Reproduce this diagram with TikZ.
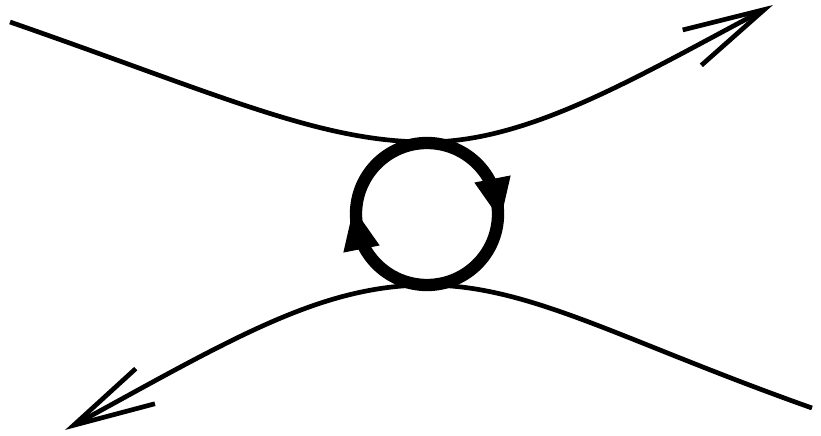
\documentclass[tikz,border=0pt]{standalone}
\usepackage{tikz}
\usetikzlibrary{arrows.meta, decorations.markings}

\tikzset{
  flowline/.style={line width=4pt, -{Straight Barb[length=2.45cm, width=1.2cm, line width=4pt]}},
  loopline/.style={line width=10.5pt, postaction={decorate}, decoration={markings,
      mark=at position 0.219 with {\arrow[xshift=0.65cm]{Triangle[length=1.3cm, width=1.0cm]}},
      mark=at position 0.719 with {\arrow[xshift=0.65cm]{Triangle[length=1.3cm, width=1.0cm]}}}}
}

\begin{document}
\begin{tikzpicture}[x=0.03cm, y=0.03cm]
  \useasboundingbox (0,0) rectangle (821,435);
  \coordinate (loop) at (427,221);
  \coordinate (inTop) at (10,413);
  \coordinate (outTop) at (773,430);
  \coordinate (inBot) at (812,27);
  \coordinate (outBot) at (65,5);
  \coordinate (touchTop) at (427,293);
  \coordinate (touchBot) at (427,150);
  % the two passing lines
  \draw[flowline] (inTop) .. controls (220,340) and (320,293) .. (touchTop)
    .. controls (530,293) and (640,360) .. (outTop);
  \draw[flowline] (inBot) .. controls (620,95) and (530,150) .. (touchBot)
    .. controls (320,150) and (230,95) .. (outBot);
  % the loop, turning clockwise
  \draw[loopline] (loop) ++(90:71) arc[start angle=90, end angle=-270, radius=71];
\end{tikzpicture}
\end{document}
